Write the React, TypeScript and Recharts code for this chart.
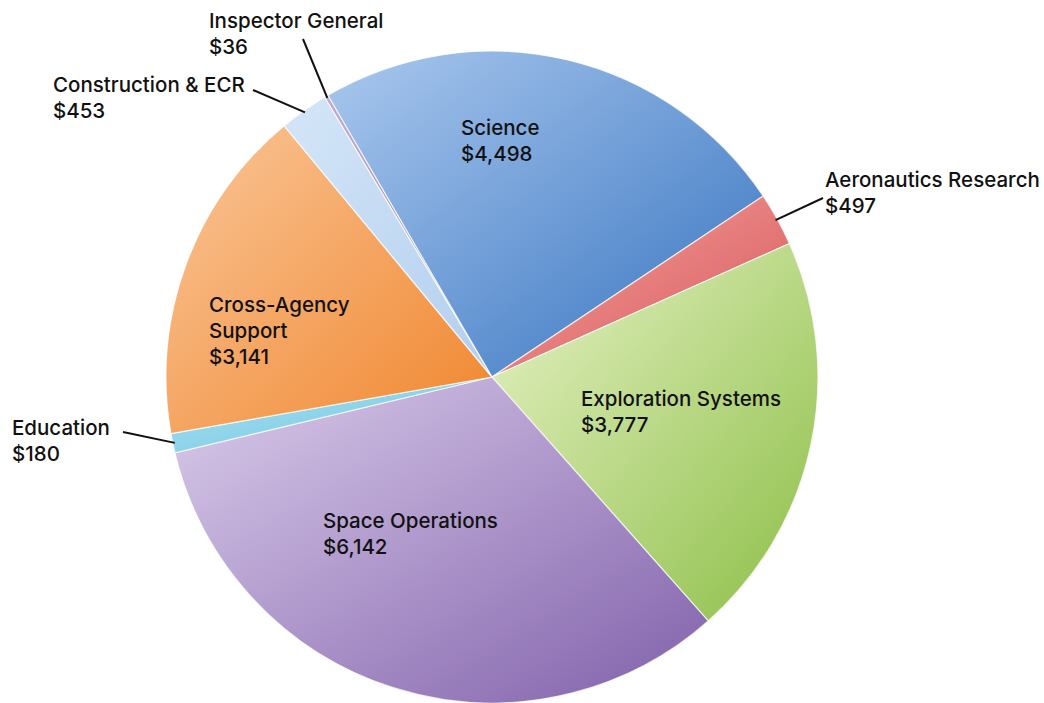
import { PieChart, Pie, Cell } from 'recharts'

const categories = [
  'Inspector General',
  'Science',
  'Aeronautics Research',
  'Exploration Systems',
  'Space Operations',
  'Education',
  'Cross-Agency Support',
  'Construction & ECR',
]
const amounts = [36, 4498, 497, 3777, 6142, 180, 3141, 453]

const data = categories.map((name, i) => ({ name, value: amounts[i] }))

// light -> dark gradient stops per slice
const colors: [string, string][] = [
  ['#c0aad2', '#9a84ae'],
  ['#aac8ee', '#3673c0'],
  ['#f6a6a6', '#d65454'],
  ['#e8f3c8', '#8cbe46'],
  ['#dbcdeb', '#8060aa'],
  ['#ade2f2', '#6cc4e0'],
  ['#fac698', '#f0862e'],
  ['#d4e6f8', '#b2ceee'],
]

// label text lines, offsets from the pie centre; leader line end for outside labels
const labelLayout: Record<string, { lines: string[]; x: number; y: number; line?: [number, number] }> = {
  'Inspector General': { lines: ['Inspector General', '$36'], x: -283, y: -349, line: [-189, -338] },
  Science: { lines: ['Science', '$4,498'], x: -31, y: -242 },
  'Aeronautics Research': { lines: ['Aeronautics Research', '$497'], x: 333, y: -190, line: [331, -179] },
  'Exploration Systems': { lines: ['Exploration Systems', '$3,777'], x: 89, y: 29 },
  'Space Operations': { lines: ['Space Operations', '$6,142'], x: -169, y: 151 },
  Education: { lines: ['Education', '$180'], x: -480, y: 58, line: [-369, 55] },
  'Cross-Agency Support': { lines: ['Cross-Agency', 'Support', '$3,141'], x: -283, y: -65 },
  'Construction & ECR': { lines: ['Construction & ECR', '$453'], x: -439, y: -285, line: [-239, -287] },
}

const RAD = Math.PI / 180

function renderLabel(props: any) {
  const { cx, cy, midAngle, outerRadius, index } = props
  const layout = labelLayout[categories[index]]
  if (!layout) return null
  let leader = null
  if (layout.line) {
    const sx = cx + (outerRadius - 2) * Math.cos(-midAngle * RAD)
    const sy = cy + (outerRadius - 2) * Math.sin(-midAngle * RAD)
    leader = (
      <line x1={sx} y1={sy} x2={cx + layout.line[0]} y2={cy + layout.line[1]} stroke="#111" strokeWidth={2} />
    )
  }
  return (
    <g key={`lbl-${index}`}>
      {leader}
      <text
        x={cx + layout.x}
        y={cy + layout.y}
        fill="#111"
        fontSize={20.5}
        fontWeight={500}
        fontFamily="Inter, 'Open Sans', Arial, sans-serif"
        textAnchor="start"
      >
        {layout.lines.map((t, i) => (
          <tspan key={i} x={cx + layout.x} dy={i === 0 ? 0 : 26}>
            {t}
          </tspan>
        ))}
      </text>
    </g>
  )
}

export default function App() {
  return (
    <div style={{ position: 'absolute', left: 0, top: 0, width: 1044, height: 703, background: '#fff' }}>
      <PieChart width={1044} height={703} margin={{ top: 0, right: 0, bottom: 0, left: 0 }}>
        <defs>
          {colors.map(([a, b], i) => (
            <linearGradient key={i} id={`g${i}`} x1="0" y1="0" x2="1" y2="1">
              <stop offset="0%" stopColor={a} />
              <stop offset="100%" stopColor={b} />
            </linearGradient>
          ))}
        </defs>
        <Pie
          data={data}
          dataKey="value"
          nameKey="name"
          cx={492}
          cy={377}
          outerRadius={326}
          startAngle={120.9}
          endAngle={-239.1}
          stroke="rgba(255,255,255,0.75)"
          strokeWidth={1.2}
          label={renderLabel}
          labelLine={false}
          isAnimationActive={false}
        >
          {data.map((d, i) => (
            <Cell key={d.name} fill={`url(#g${i})`} />
          ))}
        </Pie>
      </PieChart>
    </div>
  )
}
